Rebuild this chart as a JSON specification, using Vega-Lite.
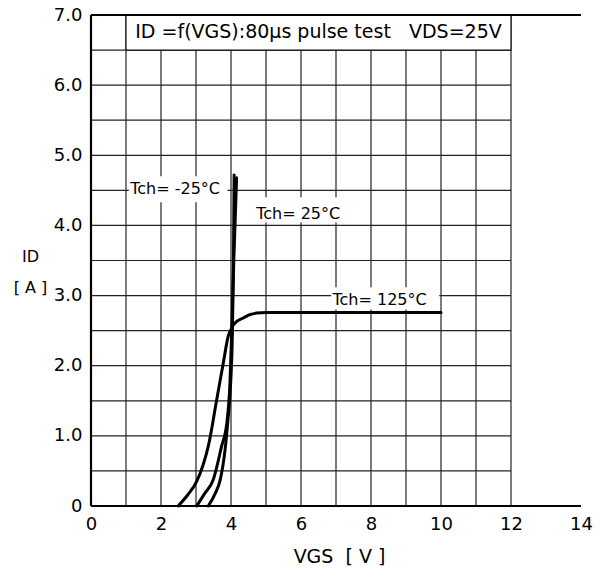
{
  "$schema": "https://vega.github.io/schema/vega-lite/v6.json",
  "width": 490,
  "height": 491,
  "autosize": {"type": "none"},
  "padding": {"left": 91, "top": 15, "right": 19, "bottom": 71},
  "view": {"stroke": null},
  "background": "white",
  "config": {"font": "DejaVu Sans"},
  "data": {"values": [{}]},
  "datasets": {
    "vgrid": [{"V": 1}, {"V": 2}, {"V": 3}, {"V": 4}, {"V": 5}, {"V": 6}, {"V": 7}, {"V": 8}, {"V": 9}, {"V": 10}, {"V": 11}, {"V": 12}],
    "hgrid": [{"I": 0.5}, {"I": 1}, {"I": 1.5}, {"I": 2}, {"I": 2.5}, {"I": 3}, {"I": 3.5}, {"I": 4}, {"I": 4.5}, {"I": 5}, {"I": 5.5}, {"I": 6}, {"I": 6.5}],
    "curves": [
      {"T": "125", "V": 2.49, "I": 0},
      {"T": "125", "V": 2.75, "I": 0.15},
      {"T": "125", "V": 3.02, "I": 0.35},
      {"T": "125", "V": 3.2, "I": 0.58},
      {"T": "125", "V": 3.35, "I": 0.85},
      {"T": "125", "V": 3.59, "I": 1.51},
      {"T": "125", "V": 3.78, "I": 2.04},
      {"T": "125", "V": 3.92, "I": 2.42},
      {"T": "125", "V": 4.02, "I": 2.54},
      {"T": "125", "V": 4.1, "I": 2.6},
      {"T": "125", "V": 4.35, "I": 2.68},
      {"T": "125", "V": 4.55, "I": 2.73},
      {"T": "125", "V": 4.73, "I": 2.75},
      {"T": "125", "V": 5.02, "I": 2.76},
      {"T": "125", "V": 10, "I": 2.76},
      {"T": "25", "V": 3.02, "I": 0},
      {"T": "25", "V": 3.25, "I": 0.18},
      {"T": "25", "V": 3.49, "I": 0.37},
      {"T": "25", "V": 3.73, "I": 0.85},
      {"T": "25", "V": 3.88, "I": 1.18},
      {"T": "25", "V": 3.97, "I": 1.75},
      {"T": "25", "V": 4.02, "I": 2.47},
      {"T": "25", "V": 4.08, "I": 3.5},
      {"T": "25", "V": 4.16, "I": 4.68},
      {"T": "-25", "V": 3.35, "I": 0},
      {"T": "-25", "V": 3.55, "I": 0.18},
      {"T": "-25", "V": 3.69, "I": 0.37},
      {"T": "-25", "V": 3.83, "I": 0.8},
      {"T": "-25", "V": 3.92, "I": 1.27},
      {"T": "-25", "V": 3.99, "I": 1.75},
      {"T": "-25", "V": 4.04, "I": 2.47},
      {"T": "-25", "V": 4.07, "I": 3.5},
      {"T": "-25", "V": 4.09, "I": 4.72}
    ],
    "labels": [
      {"label": "Tch= -25°C", "V": 1.12, "I": 4.52, "x0": 1.08, "x1": 3.9, "y0": 4.33, "y1": 4.7},
      {"label": "Tch= 25°C", "V": 4.72, "I": 4.17, "x0": 4.68, "x1": 7.1, "y0": 4.04, "y1": 4.4},
      {"label": "Tch= 125°C", "V": 6.9, "I": 2.94, "x0": 6.86, "x1": 9.95, "y0": 2.8, "y1": 3.12}
    ]
  },
  "layer": [
    {
      "data": {"name": "vgrid"},
      "mark": {"type": "rule", "color": "#222", "strokeWidth": 1.2},
      "encoding": {
        "x": {
          "field": "V", "type": "quantitative",
          "scale": {"domain": [0, 14], "nice": false, "zero": false},
          "axis": {
            "values": [0, 2, 4, 6, 8, 10, 12, 14],
            "grid": false, "domain": false, "ticks": false, "labelFlush": false, "labelOverlap": false,
            "labelFont": "DejaVu Sans", "labelFontSize": 18, "labelColor": "#000", "labelPadding": 9,
            "title": "VGS\u00a0\u00a0[ V ]", "titleFont": "DejaVu Sans", "titleFontSize": 19, "titleFontWeight": "normal", "titleColor": "#000",
            "titleX": 248, "titleY": 56, "titleBaseline": "alphabetic", "titleAnchor": "middle", "titleAlign": "center"
          }
        },
        "y": {"datum": 0, "type": "quantitative"},
        "y2": {"datum": 7}
      }
    },
    {
      "data": {"name": "hgrid"},
      "mark": {"type": "rule", "color": "#222", "strokeWidth": 1.2},
      "encoding": {
        "y": {
          "field": "I", "type": "quantitative",
          "scale": {"domain": [0, 7], "nice": false, "zero": false},
          "axis": {
            "values": [0, 1, 2, 3, 4, 5, 6, 7],
            "labelExpr": "datum.value == 0 ? '0' : format(datum.value, '.1f')",
            "grid": false, "domain": false, "ticks": false, "labelFlush": false, "labelOverlap": false,
            "labelFont": "DejaVu Sans", "labelFontSize": 18, "labelColor": "#000", "labelPadding": 9,
            "title": ["ID", "[ A ]"], "titleAngle": 0, "titleFont": "DejaVu Sans", "titleFontSize": 16, "titleFontWeight": "normal", "titleColor": "#000",
            "titleX": -61, "titleY": 246, "titleAlign": "center", "titleBaseline": "alphabetic", "titleLineHeight": 31
          }
        },
        "x": {"datum": 0, "type": "quantitative"},
        "x2": {"datum": 12}
      }
    },
    {
      "mark": {"type": "rect", "fill": "white", "stroke": "#111", "strokeWidth": 1.2},
      "encoding": {
        "x": {"datum": 1, "type": "quantitative"},
        "x2": {"datum": 12},
        "y": {"datum": 6.5, "type": "quantitative"},
        "y2": {"datum": 7}
      }
    },
    {
      "mark": {"type": "rule", "color": "#000", "strokeWidth": 2.2},
      "encoding": {
        "x": {"datum": 0, "type": "quantitative"},
        "y": {"datum": 0, "type": "quantitative"},
        "y2": {"datum": 7}
      }
    },
    {
      "mark": {"type": "rule", "color": "#000", "strokeWidth": 2.2},
      "encoding": {
        "x": {"datum": 0, "type": "quantitative"},
        "x2": {"datum": 14},
        "y": {"datum": 0, "type": "quantitative"}
      }
    },
    {
      "mark": {"type": "rule", "color": "#000", "strokeWidth": 2.2},
      "encoding": {
        "x": {"datum": 0, "type": "quantitative"},
        "x2": {"datum": 14},
        "y": {"datum": 7, "type": "quantitative"}
      }
    },
    {
      "data": {"name": "labels"},
      "mark": {"type": "rect", "fill": "white", "stroke": null},
      "encoding": {
        "x": {"field": "x0", "type": "quantitative"},
        "x2": {"field": "x1"},
        "y": {"field": "y0", "type": "quantitative"},
        "y2": {"field": "y1"}
      }
    },
    {
      "data": {"name": "curves"},
      "mark": {"type": "line", "color": "#000", "strokeWidth": 3, "interpolate": "monotone", "strokeCap": "round"},
      "encoding": {
        "x": {"field": "V", "type": "quantitative"},
        "y": {"field": "I", "type": "quantitative"},
        "detail": {"field": "T", "type": "nominal"}
      }
    },
    {
      "data": {"name": "labels"},
      "mark": {"type": "text", "align": "left", "baseline": "middle", "fontSize": 16, "font": "DejaVu Sans", "color": "#000"},
      "encoding": {
        "x": {"field": "V", "type": "quantitative"},
        "y": {"field": "I", "type": "quantitative"},
        "text": {"field": "label", "type": "nominal"}
      }
    },
    {
      "mark": {"type": "text", "align": "center", "baseline": "middle", "fontSize": 19, "font": "DejaVu Sans", "color": "#000", "text": "ID =f(VGS):80µs pulse test\u00a0\u00a0\u00a0VDS=25V"},
      "encoding": {
        "x": {"datum": 6.5, "type": "quantitative"},
        "y": {"datum": 6.76, "type": "quantitative"}
      }
    }
  ]
}
